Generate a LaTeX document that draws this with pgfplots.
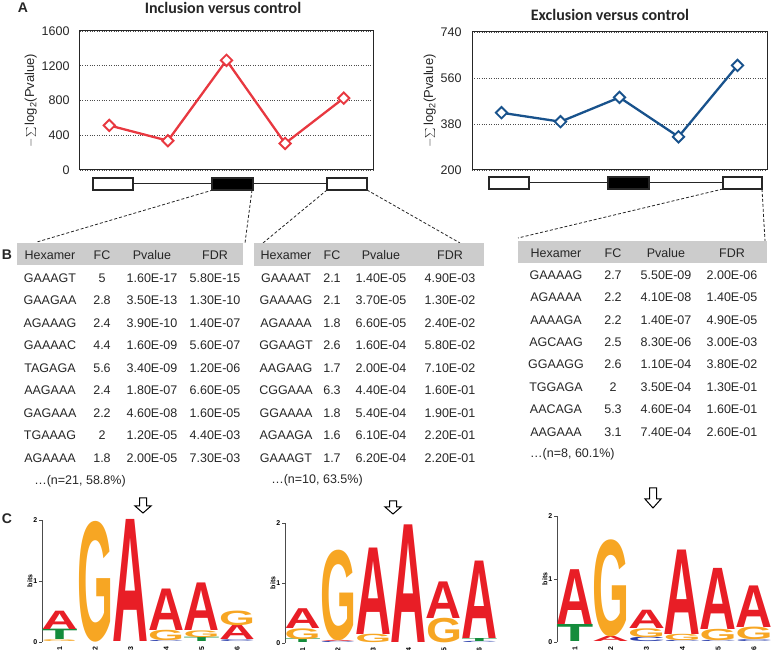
\documentclass[border=0pt]{standalone}
\usepackage{pgfplots}
\pgfplotsset{compat=1.18}
\usepackage{fontspec}
\setmainfont{Liberation Sans}
\newfontfamily\titlefont{Carlito}
\usepackage{graphicx}
\definecolor{incl}{RGB}{232,56,64}
\definecolor{excl}{RGB}{24,82,140}
\definecolor{nA}{RGB}{232,30,38}
\definecolor{nG}{RGB}{247,166,35}
\definecolor{nT}{RGB}{20,140,60}
\definecolor{nC}{RGB}{40,60,170}
\definecolor{band}{RGB}{204,204,204}
\newlength\bitunit
\newlength\letw
\newcommand\lt[5]{\node[inner sep=0pt,anchor=south,text=#5] at (axis cs:#1,#2) {\resizebox*{\letw}{#3\bitunit}{\bfseries #4}};}
\newcommand\tf{\fontsize{12.5}{15}\selectfont}
\newcommand\darrow[4]{\draw[line width=1pt,fill=white] (#1-3.5,#2) -- (#1+3.5,#2) -- (#1+3.5,#3-#4) -- (#1+8,#3-#4) -- (#1,#3) -- (#1-8,#3-#4) -- (#1-3.5,#3-#4) -- cycle;}
\pgfplotsset{
  linechart/.style={scale only axis, clip=false,
    axis line style={line width=1pt, draw=black!85},
    xmin=0.5, xmax=5.5, xtick=\empty,
    ymajorgrids, grid style={dotted, black!70, line width=0.7pt},
    major tick length=0pt,
    /pgf/number format/assume math mode=true,
    /pgf/number format/1000 sep={},
    tick label style={font=\fontsize{12.5}{14}\selectfont, text=black!85},
    yticklabel style={xshift=-7pt},
    ylabel={$-\!\sum$\,log\textsubscript{2}(Pvalue)},
    ylabel style={font=\fontsize{13}{14}\selectfont, text=black!85, yshift=-2pt},
  },
  logo/.style={scale only axis, clip=false,
    xmin=0.5, xmax=6.5, ymin=0, ymax=2,
    axis lines=left, axis line style={-, black!70, line width=0.8pt},
    x axis line style={draw=none},
    xtick={1,2,3,4,5,6}, ytick={0,1,2},
    xtick style={draw=none},
    ytick style={black!70, line width=0.8pt},
    tick align=outside, major tick length=3pt,
    /pgf/number format/assume math mode=true,
    tick label style={font=\fontsize{7}{8}\selectfont\bfseries},
    xticklabel style={rotate=90, anchor=east, inner sep=1pt},
    yticklabel style={inner sep=1.5pt},
    ylabel={bits}, ylabel style={font=\fontsize{7}{8}\selectfont\bfseries, yshift=-4pt},
  }
}
\begin{document}
\begin{tikzpicture}
\useasboundingbox (0,0) rectangle (772pt,650pt);

% ---------- Chart A1 ----------
\begin{axis}[linechart, at={(80pt,480pt)}, anchor=south west,
  width=293pt, height=139pt, ymin=0, ymax=1600, ytick={0,400,800,1200,1600}]
\addplot[incl, line width=2.3pt, mark=square*, mark size=4pt,
  mark options={rotate=45, fill=white, draw=incl, line width=1.9pt}]
  coordinates {(1,513) (2,337) (3,1263) (4,306) (5,827)};
\end{axis}

% ---------- Chart A2 ----------
\begin{axis}[linechart, at={(472pt,480pt)}, anchor=south west,
  width=295pt, height=138pt, ymin=200, ymax=740, ytick={200,380,560,740}]
\addplot[excl, line width=2.3pt, mark=square*, mark size=4pt,
  mark options={rotate=45, fill=white, draw=excl, line width=1.9pt}]
  coordinates {(1,424) (2,389) (3,484) (4,330) (5,609)};
\end{axis}

% ---------- Logos ----------
\setlength\bitunit{61pt}\setlength\letw{36pt}
\begin{axis}[logo, at={(42pt,8pt)}, anchor=south west, width=213pt, height=122pt]
\lt{1}{0}{0.03}{G}{nG}\lt{1}{0.03}{0.17}{T}{nT}\lt{1}{0.20}{0.30}{A}{nA}
\lt{2}{0}{1.98}{G}{nG}
\lt{3}{0}{2.0}{A}{nA}
\lt{4}{0}{0.02}{C}{nC}\lt{4}{0.02}{0.17}{G}{nG}\lt{4}{0.19}{0.68}{A}{nA}
\lt{5}{0}{0.07}{T}{nT}\lt{5}{0.07}{0.11}{G}{nG}\lt{5}{0.18}{0.78}{A}{nA}
\lt{6}{0}{0.03}{C}{nC}\lt{6}{0.03}{0.24}{A}{nA}\lt{6}{0.27}{0.24}{G}{nG}
\end{axis}
\setlength\bitunit{60pt}\setlength\letw{36pt}
\begin{axis}[logo, at={(285pt,7pt)}, anchor=south west, width=212pt, height=120pt]
\lt{1}{0}{0.06}{T}{nT}\lt{1}{0.06}{0.18}{G}{nG}\lt{1}{0.24}{0.33}{A}{nA}
\lt{2}{0}{0.02}{C}{nC}\lt{2}{0.02}{0.02}{A}{nA}\lt{2}{0.04}{1.51}{G}{nG}
\lt{3}{0}{0.14}{G}{nG}\lt{3}{0.14}{1.44}{A}{nA}
\lt{4}{0}{1.96}{A}{nA}
\lt{5}{0}{0.41}{G}{nG}\lt{5}{0.41}{0.61}{A}{nA}
\lt{6}{0}{0.02}{C}{nC}\lt{6}{0.02}{0.05}{T}{nT}\lt{6}{0.07}{1.29}{A}{nA}
\end{axis}
\setlength\bitunit{63pt}\setlength\letw{37pt}
\begin{axis}[logo, at={(557pt,8pt)}, anchor=south west, width=215pt, height=126pt]
\lt{1}{0}{0.27}{T}{nT}\lt{1}{0.27}{0.87}{A}{nA}
\lt{2}{0}{0.08}{A}{nA}\lt{2}{0.08}{1.54}{G}{nG}
\lt{3}{0}{0.07}{C}{nC}\lt{3}{0.07}{0.14}{G}{nG}\lt{3}{0.21}{0.29}{A}{nA}
\lt{4}{0}{0.02}{C}{nC}\lt{4}{0.02}{0.10}{G}{nG}\lt{4}{0.12}{1.34}{A}{nA}
\lt{5}{0}{0.02}{C}{nC}\lt{5}{0.02}{0.18}{G}{nG}\lt{5}{0.20}{0.97}{A}{nA}
\lt{6}{0}{0.03}{C}{nC}\lt{6}{0.03}{0.20}{G}{nG}\lt{6}{0.23}{0.66}{A}{nA}
\end{axis}

\begin{scope}[x=1pt, y=-1pt, yshift=650pt]
% panel letters and titles
\node[font=\fontsize{14}{16}\selectfont\bfseries, text=black!85] at (23,8) {A};
\node[font=\fontsize{14}{16}\selectfont\bfseries, text=black!85] at (7,255) {B};
\node[font=\fontsize{14}{16}\selectfont\bfseries, text=black!85] at (7,519) {C};
\node[font=\titlefont\bfseries\fontsize{16}{18}\selectfont, text=black!85] at (223,8) {Inclusion versus control};
\node[font=\titlefont\bfseries\fontsize{16}{18}\selectfont, text=black!85] at (610,15) {Exclusion versus control};

% gene structures
\draw[line width=1pt, black!85] (93,184) -- (367,184);
\draw[line width=1.2pt, black!85, fill=white] (93,178) rectangle (133,190);
\draw[line width=1.2pt, black!85, fill=black] (212,178) rectangle (253,190);
\draw[line width=1.2pt, black!85, fill=white] (327,178) rectangle (367,190);
\draw[line width=1pt, black!85] (489,183) -- (762,183);
\draw[line width=1.2pt, black!85, fill=white] (489,177) rectangle (529,189);
\draw[line width=1.2pt, black!85, fill=black] (608,177) rectangle (649,189);
\draw[line width=1.2pt, black!85, fill=white] (723,177) rectangle (762,189);

% dashed connectors
\begin{scope}[densely dashed, line width=0.8pt, black!85]
\draw (213,190) -- (37,242);
\draw (252,190) -- (245,243);
\draw (327,190) -- (263,243);
\draw (367,190) -- (460,243);
\draw (723,189) -- (518,238);
\draw (762,189) -- (765,241);
\end{scope}

% header bands
\fill[band] (17,243) rectangle (243,265);
\fill[band] (254,243) rectangle (484,266);
\fill[band] (518,241) rectangle (767,263);

\begin{scope}[every node/.style={font=\tf, text=black!85, inner sep=0pt}]
% table 1
\node at (50,255) {Hexamer};\node at (102,255) {FC};\node at (152,255) {Pvalue};\node at (215,255) {FDR};
\foreach \y/\h/\f/\p/\d in {278/GAAAGT/5/1.60E-17/5.80E-15, 300.5/GAAGAA/2.8/3.50E-13/1.30E-10, 323/AGAAAG/2.4/3.90E-10/1.40E-07, 345.5/GAAAAC/4.4/1.60E-09/5.60E-07, 368/TAGAGA/5.6/3.40E-09/1.20E-06, 390.5/AAGAAA/2.4/1.80E-07/6.60E-05, 413/GAGAAA/2.2/4.60E-08/1.60E-05, 435.5/TGAAAG/2/1.20E-05/4.40E-03, 458/AGAAAA/1.8/2.00E-05/7.30E-03}
  {\node at (50,\y) {\h};\node at (102,\y) {\f};\node at (152,\y) {\p};\node at (215,\y) {\d};}
\node at (80,481) {\ldots(n=21, 58.8\%)};
% table 2
\node at (286,255) {Hexamer};\node at (332,255) {FC};\node at (381,255) {Pvalue};\node at (450,255) {FDR};
\foreach \y/\h/\f/\p/\d in {278/GAAAAT/2.1/1.40E-05/4.90E-03, 300.5/GAAAAG/2.1/3.70E-05/1.30E-02, 323/AGAAAA/1.8/6.60E-05/2.40E-02, 345.5/GGAAGT/2.6/1.60E-04/5.80E-02, 368/AAGAAG/1.7/2.00E-04/7.10E-02, 390.5/CGGAAA/6.3/4.40E-04/1.60E-01, 413/GGAAAA/1.8/5.40E-04/1.90E-01, 435.5/AGAAGA/1.6/6.10E-04/2.20E-01, 458/GAAAGT/1.7/6.20E-04/2.20E-01}
  {\node at (286,\y) {\h};\node at (332,\y) {\f};\node at (381,\y) {\p};\node at (450,\y) {\d};}
\node at (317,480) {\ldots(n=10, 63.5\%)};
% table 3
\node at (556,253) {Hexamer};\node at (613,253) {FC};\node at (666,253) {Pvalue};\node at (732,253) {FDR};
\foreach \y/\h/\f/\p/\d in {275/GAAAAG/2.7/5.50E-09/2.00E-06, 297.4/AGAAAA/2.2/4.10E-08/1.40E-05, 319.8/AAAAGA/2.2/1.40E-07/4.90E-05, 342.2/AGCAAG/2.5/8.30E-06/3.00E-03, 364.6/GGAAGG/2.6/1.10E-04/3.80E-02, 387/TGGAGA/2/3.50E-04/1.30E-01, 409.4/AACAGA/5.3/4.60E-04/1.60E-01, 431.8/AAGAAA/3.1/7.40E-04/2.60E-01}
  {\node at (556,\y) {\h};\node at (613,\y) {\f};\node at (666,\y) {\p};\node at (732,\y) {\d};}
\node[anchor=west] at (530,454) {\ldots(n=8, 60.1\%)};
\end{scope}

% arrows
\darrow{143}{498}{513}{7}
\darrow{393}{501}{514}{7}
\darrow{653}{488}{508}{9}
\end{scope}
\end{tikzpicture}
\end{document}
